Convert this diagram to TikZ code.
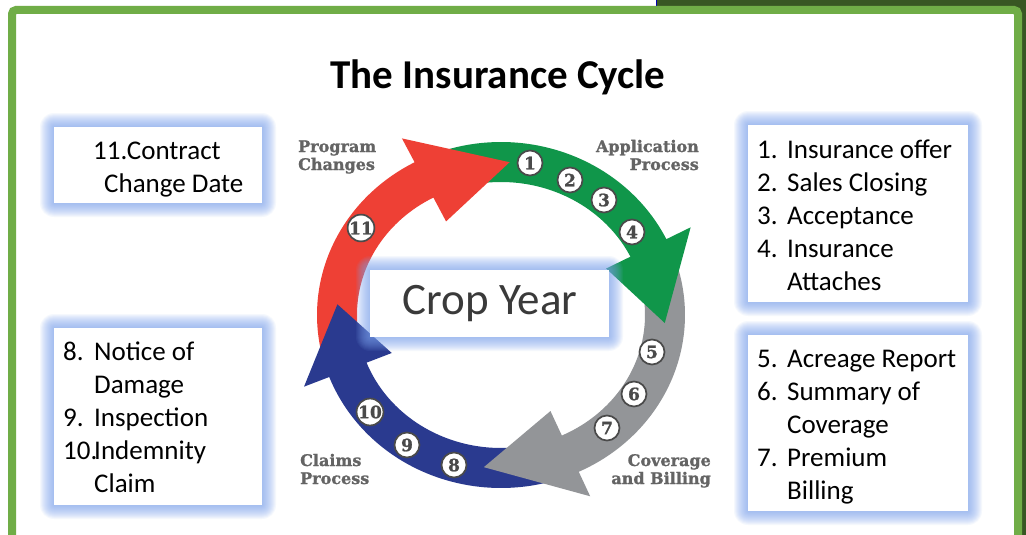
\documentclass[tikz,border=0pt]{standalone}
\usepackage{fontspec}
\setmainfont{Carlito}
\newfontfamily\slabfont[BoldFeatures={FakeBold=1.2}]{DejaVu Serif}
\usetikzlibrary{calc}
\definecolor{frameGreen}{HTML}{70AD47}
\definecolor{darkGreen}{HTML}{385723}
\definecolor{redA}{HTML}{EE4035}
\definecolor{greenA}{HTML}{10964A}
\definecolor{grayA}{HTML}{939598}
\definecolor{blueA}{HTML}{2A3A8F}
\definecolor{glowBlue}{HTML}{7EA6F0}
\definecolor{labelGray}{HTML}{646464}
\definecolor{numGray}{HTML}{4A4A4A}
\definecolor{cropGray}{HTML}{3A3A3A}
\tikzset{
  infobox/.style={draw=none, fill=white, anchor=north west, inner sep=0pt},
  infotext/.style={anchor=base west, align=left, inner sep=0pt, text=black,
    font=\fontsize{27}{33}\selectfont},
  ringlabel/.style={inner sep=0pt, text=labelGray,
    font=\slabfont\bfseries\fontsize{16}{18}\selectfont},
  numcirc/.style={circle, draw=numGray, line width=1.7pt, fill=white,
    minimum size=25pt, inner sep=0pt, text=numGray,
    font=\slabfont\bfseries\fontsize{17}{17}\selectfont},
}
% ring geometry (image pixel coordinates, y downwards)
\def\cx{501}\def\cy{315}
\def\rxo{184}\def\ryo{173}
\def\rxi{144}\def\ryi{133}
\def\rxm{164}\def\rym{153}
\def\hw{47}
% band: colour, tail angle, base angle
\newcommand\ringband[3]{%
  \fill[#1] plot[domain=#2:#3-1,samples=60] ({\cx+\rxo*cos(\x)},{\cy-\ryo*sin(\x)})
    -- plot[domain=#3-1:#2,samples=60] ({\cx+\rxi*cos(\x)},{\cy-\ryi*sin(\x)}) -- cycle;}
% head: colour, base angle, tip angle
\newcommand\ringhead[3]{%
  \fill[#1] ({\cx+(\rxm+\hw)*cos(#2)},{\cy-(\rym+\hw)*sin(#2)})
    -- ({\cx+\rxm*cos(#3)},{\cy-\rym*sin(#3)})
    -- ({\cx+(\rxm-\hw)*cos(#2)},{\cy-(\rym-\hw)*sin(#2)}) -- cycle;}
\newcommand\glowbox[5]{%
  \foreach \g in {14,13,...,1}{
    \fill[glowBlue, opacity=0.075, rounded corners=\g pt] (#2-\g,#3-\g) rectangle (#4+\g,#5+\g);}
  \node[infobox, minimum width=#4-#2, minimum height=#5-#3] (#1) at (#2,#3) {};}
\begin{document}
\begin{tikzpicture}[x=1pt,y=-1pt]
\useasboundingbox (0,0) rectangle (1026,535);
% background and frame
\fill[white] (0,0) rectangle (1026,535);
\fill[darkGreen] (657,0) rectangle (1026,535);
\draw[blue!70!black, line width=1.2pt] (656.5,0) -- (656.5,7);
\draw[frameGreen, line width=8pt, fill=white, rounded corners=4pt] (12,10) rectangle (1018,560);
% title
\node[font=\bfseries\fontsize{41}{45}\selectfont] (title) at (498,77) {The Insurance Cycle};
% ring bands
\ringband{redA}{191}{118}
\ringband{greenA}{108}{26}
\ringband{grayA}{16}{-65}
\ringband{blueA}{285}{201}
% ring heads
\ringhead{redA}{118}{87}
\ringhead{greenA}{26}{-3}
\ringhead{grayA}{-65}{-96}
\ringhead{blueA}{201}{176}
% numbered circles
\node[numcirc] (n1) at (530,163) {1};
\node[numcirc] (n2) at (570,180) {2};
\node[numcirc] (n3) at (604,200) {3};
\node[numcirc] (n4) at (632,232) {4};
\node[numcirc] (n5) at (652,352) {5};
\node[numcirc] (n6) at (634,394) {6};
\node[numcirc] (n7) at (607,428) {7};
\node[numcirc] (n8) at (454,465) {8};
\node[numcirc] (n9) at (407,445) {9};
\node[numcirc] (n10) at (370,412) {10};
\node[numcirc] (n11) at (361,228) {11};
% ring labels (base anchor = last line)
\node[ringlabel, anchor=base west, align=left] (lprog) at (298,170) {Program\\Changes};
\node[ringlabel, anchor=base east, align=right] (lapp) at (699,170) {Application\\Process};
\node[ringlabel, anchor=base west, align=left] (lclaims) at (300,484) {Claims\\Process};
\node[ringlabel, anchor=base east, align=right] (lcov) at (711,484) {Coverage\\and Billing};
% crop year box
\glowbox{crop}{370}{270}{609}{337}
\node[font=\fontsize{45}{48}\selectfont, text=cropGray] (croptext) at (490,304) {Crop Year};
% info boxes
\glowbox{boxA}{54}{127}{262}{203}
\glowbox{boxB}{748}{125}{968}{302}
\glowbox{boxC}{54}{328}{262}{505}
\glowbox{boxD}{748}{335}{968}{511}
\node[infotext] (tA) at (93,192) {11.Contract\\\hspace*{11pt}Change Date};
\node[infotext] (tB) at (757,290) {\makebox[30pt][l]{1.}Insurance offer\\\makebox[30pt][l]{2.}Sales Closing\\\makebox[30pt][l]{3.}Acceptance\\\makebox[30pt][l]{4.}Insurance\\\hspace*{30pt}Attaches};
\node[infotext] (tC) at (63,492) {\makebox[31pt][l]{8.}Notice of\\\hspace*{31pt}Damage\\\makebox[31pt][l]{9.}Inspection\\\makebox[31pt][l]{10.}Indemnity\\\hspace*{31pt}Claim};
\node[infotext] (tD) at (757,499) {\makebox[30pt][l]{5.}Acreage Report\\\makebox[30pt][l]{6.}Summary of\\\hspace*{30pt}Coverage\\\makebox[30pt][l]{7.}Premium\\\hspace*{30pt}Billing};
\end{tikzpicture}
\end{document}
